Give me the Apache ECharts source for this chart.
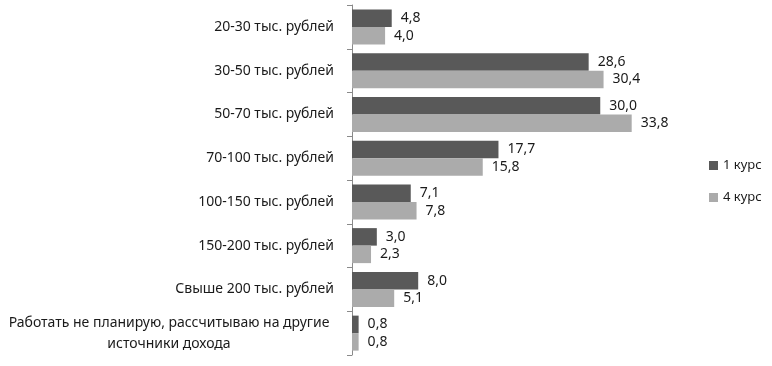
<!DOCTYPE html>
<html>
<head>
<meta charset="utf-8">
<script src="https://cdn.jsdelivr.net/npm/echarts@6/dist/echarts.min.js"></script>
<style>
  html, body { margin: 0; padding: 0; background: #fff; }
  #chart { width: 772px; height: 366px; }
</style>
</head>
<body>
<div id="chart"></div>
<script>
const categories = [
  '20-30 тыс. рублей',
  '30-50 тыс. рублей',
  '50-70 тыс. рублей',
  '70-100 тыс. рублей',
  '100-150 тыс. рублей',
  '150-200 тыс. рублей',
  'Свыше 200 тыс. рублей',
  'Работать не планирую, рассчитываю на другие\nисточники дохода'
];
const course1 = [4.8, 28.6, 30.0, 17.7, 7.1, 3.0, 8.0, 0.8];
const course4 = [4.0, 30.4, 33.8, 15.8, 7.8, 2.3, 5.1, 0.8];
const seriesNames = ['1 курс', '4 курс'];

const font = 'Noto Sans';
const colors = ['#595959', '#ababab'];

const valueLabel = {
  show: true,
  position: 'right',
  distance: 9,
  color: '#1a1a1a',
  fontFamily: font,
  fontSize: 14,
  formatter: p => p.value.toFixed(1).replace('.', ',')
};

const seriesCommon = {
  type: 'bar',
  barGap: '0%',
  barCategoryGap: '20%',
  label: valueLabel,
  silent: true
};

const chart = echarts.init(document.getElementById('chart'));
chart.setOption({
  animation: false,
  color: colors,
  grid: { left: 352, top: 5, height: 350, width: 331, outerBoundsMode: 'none', containLabel: false },
  legend: {
    orient: 'vertical',
    left: 704,
    top: 154,
    itemWidth: 9,
    itemHeight: 9,
    itemGap: 19,
    icon: 'rect',
    textStyle: { fontFamily: font, fontSize: 13, color: '#1a1a1a' },
    data: seriesNames
  },
  xAxis: {
    type: 'value',
    min: 0,
    max: 40,
    show: false
  },
  yAxis: {
    type: 'category',
    inverse: true,
    data: categories,
    axisLine: { lineStyle: { color: '#8a8a8a' } },
    axisTick: { show: true, length: 5, lineStyle: { color: '#8a8a8a' } },
    axisLabel: {
      margin: 18,
      color: '#1a1a1a',
      fontFamily: font,
      fontSize: 14,
      lineHeight: 21,
      formatter: v => v.indexOf('\n') >= 0
        ? v.split('\n').map(s => '{c|' + s + '}').join('\n')
        : v,
      rich: { c: { width: 330, align: 'center', fontFamily: font, fontSize: 14, lineHeight: 21, color: '#1a1a1a' } }
    }
  },
  series: [
    Object.assign({ name: seriesNames[0], data: course1 }, seriesCommon),
    Object.assign({ name: seriesNames[1], data: course4 }, seriesCommon)
  ]
});
</script>
</body>
</html>
